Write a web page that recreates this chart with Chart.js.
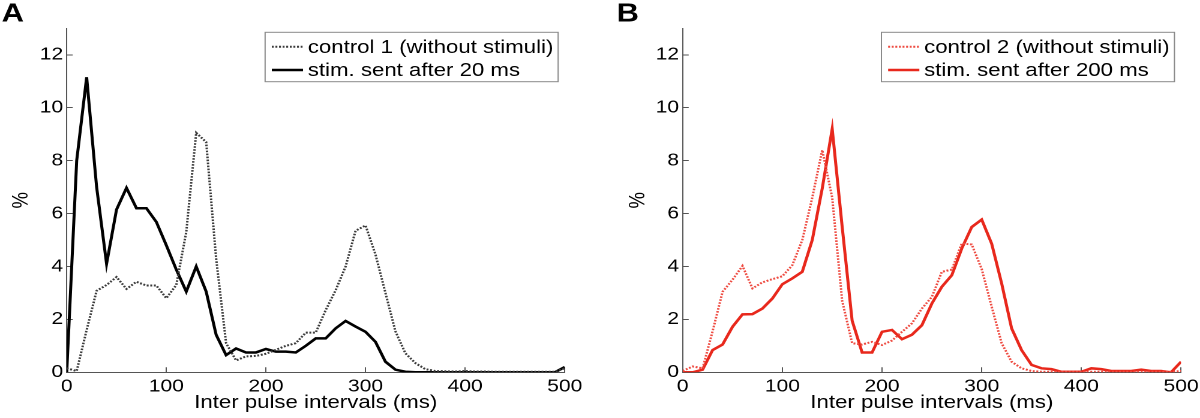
<!DOCTYPE html>
<html>
<head>
<meta charset="utf-8">
<script src="https://cdn.jsdelivr.net/npm/chart.js@4.4.1/dist/chart.umd.min.js"></script>
<style>
  html, body { margin: 0; padding: 0; background: #fff; }
  .row { display: flex; width: 1200px; height: 418px; }
  canvas { display: block; }
</style>
</head>
<body>
<div class="row">
  <canvas id="chartA" width="500" height="418" style="width:600px;height:418px"></canvas>
  <canvas id="chartB" width="500" height="418" style="width:600px;height:418px"></canvas>
</div>
<script>
// bins of the inter pulse interval histogram (ms)
const intervals = [0, 10, 20, 30, 40, 50, 60, 70, 80, 90,
    100, 110, 120, 130, 140, 150, 160, 170, 180, 190,
    200, 210, 220, 230, 240, 250, 260, 270, 280, 290,
    300, 310, 320, 330, 340, 350, 360, 370, 380, 390,
    400, 410, 420, 430, 440, 450, 460, 470, 480, 490, 500];

// panel A
const control1 = [0.15, 0.05, 1.6, 3.08, 3.3, 3.6, 3.15, 3.42, 3.28, 3.28,
    2.8, 3.3, 5.3, 9.05, 8.7, 4.3, 1.1, 0.45, 0.6, 0.62,
    0.7, 0.85, 1.0, 1.1, 1.5, 1.5, 2.35, 3.1, 4.0, 5.35,
    5.55, 4.45, 3.0, 1.55, 0.72, 0.35, 0.12, 0.05, 0.04, 0.03,
    0.05, 0.03, 0.03, 0.02, 0.02, 0.02, 0.02, 0.02, 0.02, 0.02, 0.15];
const stim20 = [0.0, 8.0, 11.15, 7.0, 4.1, 6.15, 6.97, 6.2, 6.2, 5.68,
    4.8, 3.88, 3.05, 4.0, 3.05, 1.42, 0.65, 0.9, 0.75, 0.75,
    0.88, 0.78, 0.78, 0.75, 1.0, 1.28, 1.28, 1.66, 1.94, 1.73,
    1.53, 1.15, 0.4, 0.1, 0.02, 0.0, 0.0, 0.0, 0.0, 0.0,
    0.0, 0.0, 0.0, 0.0, 0.0, 0.0, 0.0, 0.0, 0.0, 0.0, 0.2];

// panel B
const control2 = [0.05, 0.22, 0.15, 1.55, 3.04, 3.5, 4.02, 3.17, 3.4, 3.52,
    3.63, 4.05, 5.0, 6.6, 8.4, 6.6, 2.7, 1.1, 1.05, 1.15,
    1.03, 1.2, 1.53, 1.85, 2.41, 2.85, 3.8, 3.88, 4.87, 4.83,
    3.9, 2.48, 1.1, 0.4, 0.15, 0.05, 0.02, 0.02, 0.02, 0.02,
    0.02, 0.02, 0.02, 0.02, 0.02, 0.02, 0.02, 0.02, 0.02, 0.02, 0.05];
const stim200 = [0.0, 0.0, 0.1, 0.84, 1.05, 1.72, 2.19, 2.2, 2.41, 2.79,
    3.33, 3.55, 3.8, 5.0, 6.95, 9.2, 5.5, 1.95, 0.75, 0.75,
    1.53, 1.6, 1.25, 1.42, 1.78, 2.6, 3.23, 3.67, 4.68, 5.49,
    5.77, 4.86, 3.36, 1.66, 0.84, 0.28, 0.15, 0.12, 0.02, 0.02,
    0.02, 0.15, 0.12, 0.05, 0.05, 0.05, 0.1, 0.05, 0.05, 0.0, 0.4];

const FONT = '"Liberation Sans", Arial, sans-serif';

// the source figure is stretched sideways, so every canvas is drawn 500 wide and shown 600 wide
const panelDecor = {
    id: 'panelDecor',
    afterDraw(chart, args, opts) {
        const ctx = chart.ctx;
        const area = chart.chartArea;
        ctx.save();
        ctx.fillStyle = '#000';
        ctx.font = 'bold 25.7px ' + FONT;
        ctx.textBaseline = 'alphabetic';
        ctx.fillText(opts.letter, opts.letterX, 21.7);

        // legend box in the top right corner of the plot
        ctx.font = '18.5px ' + FONT;
        const sets = chart.data.datasets;
        const textW = Math.max(...sets.map(d => ctx.measureText(d.label).width));
        const boxW = 35.6 + textW + 4, boxH = 49.4;
        const left = area.right - 5.5 - boxW, top = area.top + 4;
        ctx.fillStyle = '#fff';
        ctx.fillRect(left, top, boxW, boxH);
        ctx.strokeStyle = '#8a8a8a';
        ctx.lineWidth = 1;
        ctx.strokeRect(left, top, boxW, boxH);
        sets.forEach((d, i) => {
            const y = top + 14.4 + i * 23.3;
            ctx.beginPath();
            ctx.setLineDash(d.borderDash || []);
            ctx.strokeStyle = d.borderColor;
            ctx.lineWidth = d.borderWidth;
            ctx.moveTo(left + 5.6, y);
            ctx.lineTo(left + 31.6, y);
            ctx.stroke();
            ctx.setLineDash([]);
            ctx.fillStyle = '#000';
            ctx.textBaseline = 'middle';
            ctx.fillText(d.label, left + 35.6, y + 1);
        });
        ctx.restore();
    }
};

function makePanel(canvasId, cfg) {
    const ctx = document.getElementById(canvasId);
    return new Chart(ctx, {
        type: 'line',
        data: {
            datasets: cfg.series.map(s => ({
                label: s.label,
                data: intervals.map((x, i) => ({ x: x, y: s.values[i] })),
                borderColor: s.color,
                borderWidth: s.width,
                borderDash: s.dash,
                pointRadius: 0,
                tension: 0,
                fill: false
            }))
        },
        options: {
            responsive: false,
            devicePixelRatio: 2,
            animation: false,
            layout: {
                autoPadding: false,
                padding: { left: 0, right: cfg.padRight, top: 28.3, bottom: 0 }
            },
            plugins: {
                legend: { display: false },
                tooltip: { enabled: false },
                panelDecor: { letter: cfg.letter, letterX: cfg.letterX }
            },
            scales: {
                x: {
                    type: 'linear',
                    min: 0,
                    max: 500,
                    ticks: { stepSize: 100, color: '#000', padding: 9, font: { family: FONT, size: 17.5 } },
                    grid: { drawOnChartArea: false, drawTicks: true, tickLength: -5, color: '#555' },
                    border: { color: '#555', width: 1 },
                    title: {
                        display: true,
                        text: 'Inter pulse intervals (ms)',
                        color: '#000',
                        font: { family: FONT, size: 18.5 },
                        padding: { top: 0, bottom: 4 }
                    },
                    afterFit: s => {
                        s.height = 45.7;
                        // let the "500" label hang past the plot edge
                        s.paddingLeft = 0;
                        s.paddingRight = 0;
                    }
                },
                y: {
                    min: 0,
                    max: 13,
                    ticks: { stepSize: 2, includeBounds: false, color: '#000', padding: 8, font: { family: FONT, size: 17.5 } },
                    grid: { drawOnChartArea: false, drawTicks: true, tickLength: -5, color: '#555' },
                    border: { color: '#555', width: 1 },
                    title: {
                        display: true,
                        text: '%',
                        color: '#000',
                        font: { family: FONT, size: 18.5 },
                        padding: { top: cfg.yTitlePad, bottom: 0 }
                    },
                    afterFit: s => { s.width = cfg.yAxisWidth; }
                }
            }
        },
        plugins: [panelDecor]
    });
}

makePanel('chartA', {
    letter: 'A', letterX: 1.4, padRight: 29.4, yAxisWidth: 55.6, yTitlePad: 6.8,
    series: [
        { label: 'control 1 (without stimuli)', values: control1, color: '#3a3a3a', width: 2, dash: [1.6, 1.4] },
        { label: 'stim. sent after 20 ms', values: stim20, color: '#000000', width: 2.5, dash: [] }
    ]
});

makePanel('chartB', {
    letter: 'B', letterX: 13.9, padRight: 15.8, yAxisWidth: 68.9, yTitlePad: 21,
    series: [
        { label: 'control 2 (without stimuli)', values: control2, color: '#ee4a40', width: 2, dash: [1.6, 1.4] },
        { label: 'stim. sent after 200 ms', values: stim200, color: '#e8281c', width: 2.5, dash: [] }
    ]
});
</script>
</body>
</html>
